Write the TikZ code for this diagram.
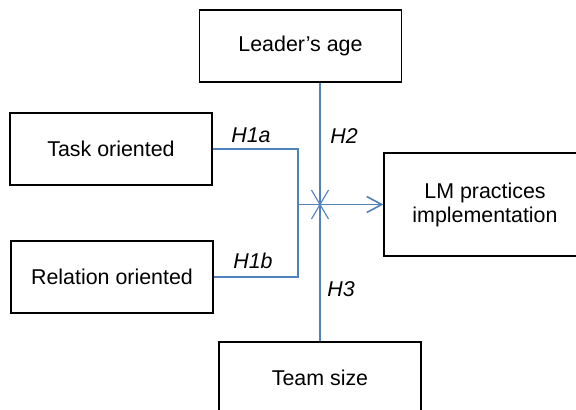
\documentclass[tikz,border=0pt]{standalone}
\usepackage{fontspec}
\setmainfont{Liberation Sans}
\usetikzlibrary{arrows.meta, shapes.misc}
\definecolor{linkblue}{RGB}{79,129,189}
\tikzset{
  factor/.style={
    rectangle, draw=black, line width=0.6pt,
    minimum width=101pt,
    minimum height=36pt,
    align=center,
    font=\fontsize{10.7}{12}\selectfont
  },
  link/.style={
    draw=linkblue, line width=0.55pt
  },
  hyp/.style={
    font=\fontsize{10.7}{12}\selectfont\itshape
  },
  hub/.style={
    cross out, draw=linkblue, line width=0.55pt,
    inner sep=0pt, minimum width=8pt, minimum height=14pt
  }
}

\begin{document}
\begin{tikzpicture}[x=0.5pt, y=-0.5pt]
  \clip (0,0) rectangle (576,409);
  \node[factor] (age) at (300.5,46) {Leader's age};
  \node[factor] (task) at (111,149) {Task oriented};
  \node[factor] (rel) at (112,277) {Relation oriented};
  \node[factor, minimum height=51.5pt] (lm) at (485,204.5) {LM practices\\implementation};
  \node[factor] (team) at (320,378) {Team size};
  \node[hub] (cross) at (320,204.5) {};
  \coordinate (join) at (298,204.5);
  % connectors
  \draw[link] (cross |- age.south) -- (team.north);
  \draw[link] (task.east) -| (join);
  \draw[link] (rel.east) -| (join);
  \draw[link, line width=0.8pt, -{Straight Barb[length=7.5pt, width=8pt]}] (join) -- (lm.west);
  % hypotheses
  \node[hyp] (h1a) at (251,135) {H1a};
  \node[hyp] (h2) at (344,136) {H2};
  \node[hyp] (h1b) at (253,261) {H1b};
  \node[hyp] (h3) at (341,289) {H3};
\end{tikzpicture}
\end{document}
